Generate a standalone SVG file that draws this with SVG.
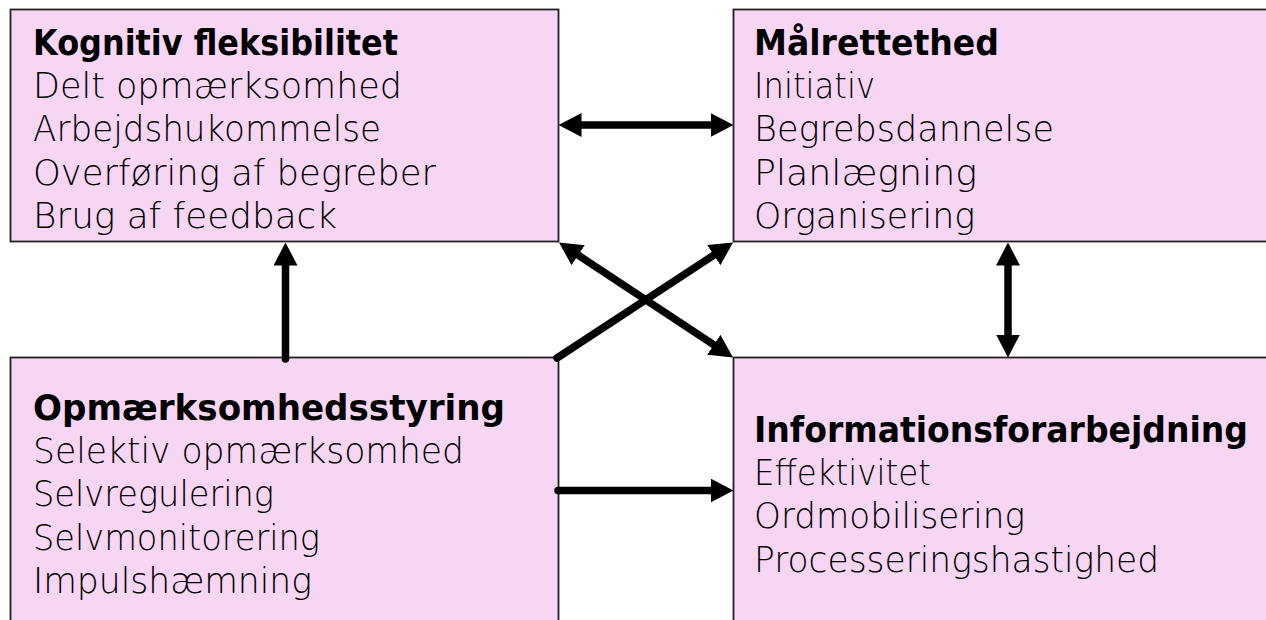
<svg xmlns="http://www.w3.org/2000/svg" width="1266" height="620" viewBox="0 0 1266 620">
<defs>
<style>
.box{fill:#F7D6F4;stroke:#222;stroke-width:1.8}
.t{font-family:"DejaVu Sans","Liberation Sans",sans-serif;font-size:36px;fill:#000;font-weight:300}
.b{font-weight:bold}
.c{stroke:#000;stroke-width:7.5;fill:none;stroke-linecap:round}
</style>
<marker id="ah" markerUnits="userSpaceOnUse" viewBox="0 0 23 24" markerWidth="23" markerHeight="24" refX="11" refY="12" orient="auto-start-reverse">
<path d="M0,0 L23,12 L0,24 z" fill="#000"/>
</marker>
</defs>
<rect width="1266" height="620" fill="#fff"/>
<g id="kognitiv">
<rect class="box" x="10.5" y="9.5" width="548" height="232"/>
<text class="t b" x="33" y="55" textLength="365" lengthAdjust="spacingAndGlyphs">Kognitiv fleksibilitet</text>
<text class="t" x="33" y="98" textLength="369" lengthAdjust="spacingAndGlyphs">Delt opmærksomhed</text>
<text class="t" x="33" y="141" textLength="348" lengthAdjust="spacingAndGlyphs">Arbejdshukommelse</text>
<text class="t" x="33" y="185" textLength="403" lengthAdjust="spacingAndGlyphs">Overføring af begreber</text>
<text class="t" x="33" y="228" textLength="304" lengthAdjust="spacingAndGlyphs">Brug af feedback</text>
</g>
<g id="maalrettethed">
<rect class="box" x="733.5" y="9.5" width="560" height="232"/>
<text class="t b" x="754" y="55" textLength="245" lengthAdjust="spacingAndGlyphs">Målrettethed</text>
<text class="t" x="754" y="98" textLength="121" lengthAdjust="spacingAndGlyphs">Initiativ</text>
<text class="t" x="754" y="141" textLength="300" lengthAdjust="spacingAndGlyphs">Begrebsdannelse</text>
<text class="t" x="754" y="185" textLength="223" lengthAdjust="spacingAndGlyphs">Planlægning</text>
<text class="t" x="754" y="228" textLength="221" lengthAdjust="spacingAndGlyphs">Organisering</text>
</g>
<g id="opmaerksomhed">
<rect class="box" x="10.5" y="357.5" width="548" height="300"/>
<text class="t b" x="33" y="420" textLength="472" lengthAdjust="spacingAndGlyphs">Opmærksomhedsstyring</text>
<text class="t" x="33" y="463" textLength="431" lengthAdjust="spacingAndGlyphs">Selektiv opmærksomhed</text>
<text class="t" x="33" y="506" textLength="241" lengthAdjust="spacingAndGlyphs">Selvregulering</text>
<text class="t" x="33" y="550" textLength="287" lengthAdjust="spacingAndGlyphs">Selvmonitorering</text>
<text class="t" x="33" y="593" textLength="279" lengthAdjust="spacingAndGlyphs">Impulshæmning</text>
</g>
<g id="information">
<rect class="box" x="733.5" y="357.5" width="560" height="300"/>
<text class="t b" x="754" y="442" textLength="494" lengthAdjust="spacingAndGlyphs">Informationsforarbejdning</text>
<text class="t" x="754" y="485" textLength="177" lengthAdjust="spacingAndGlyphs">Effektivitet</text>
<text class="t" x="754" y="528" textLength="271" lengthAdjust="spacingAndGlyphs">Ordmobilisering</text>
<text class="t" x="754" y="572" textLength="405" lengthAdjust="spacingAndGlyphs">Processeringshastighed</text>
</g>
<g id="connectors">
<line class="c" x1="570.5" y1="125" x2="721.5" y2="125" style="stroke-linecap:butt" marker-start="url(#ah)" marker-end="url(#ah)"/>
<line class="c" x1="285.5" y1="359" x2="285.5" y2="254.5" marker-end="url(#ah)"/>
<line class="c" x1="1008" y1="254.5" x2="1008" y2="345.5" style="stroke-linecap:butt" marker-start="url(#ah)" marker-end="url(#ah)"/>
<line class="c" x1="557" y1="358" x2="723" y2="249.1" marker-end="url(#ah)"/>
<line class="c" x1="569" y1="249.1" x2="723" y2="350.9" style="stroke-linecap:butt" marker-start="url(#ah)" marker-end="url(#ah)"/>
<line class="c" x1="558" y1="490.5" x2="721.5" y2="490.5" marker-end="url(#ah)"/>
</g>
</svg>
